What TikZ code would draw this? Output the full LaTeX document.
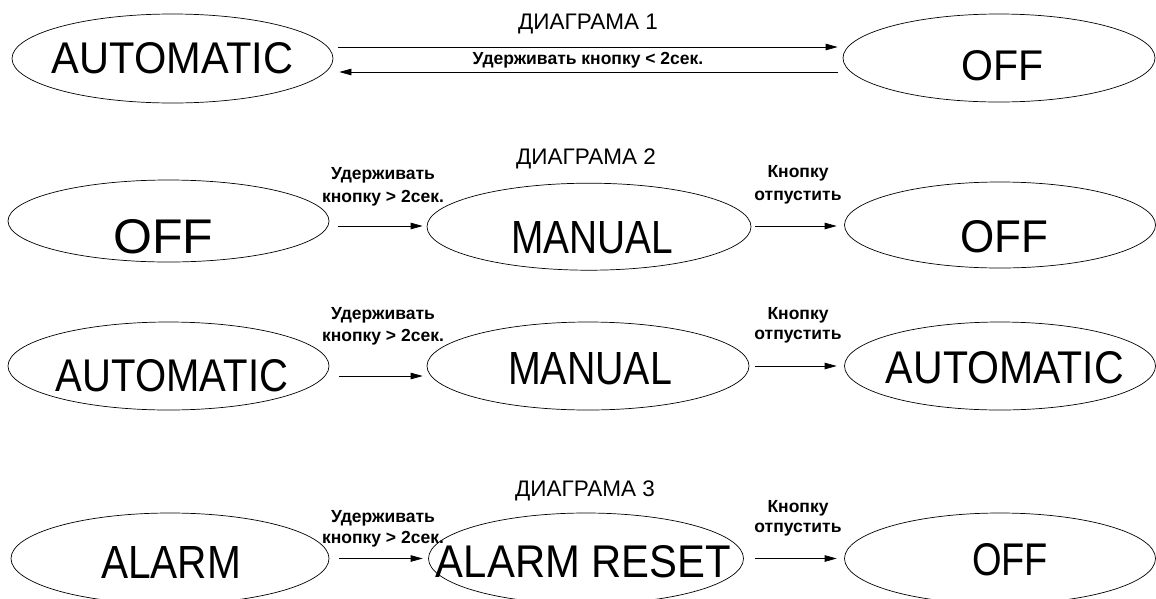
\documentclass[tikz,border=0pt]{standalone}
\usepackage{fontspec}
\setmainfont{Liberation Sans}
\usepackage{graphicx}
\usetikzlibrary{shapes.geometric,arrows.meta}
\begin{document}
\begin{tikzpicture}[x=1pt,y=-1pt,
  st/.style={draw,ellipse,line width=0.7pt,inner sep=0pt},
  big/.style={inner sep=0pt,anchor=center},
  lbl/.style={inner sep=0pt,font=\bfseries\fontsize{17.5}{19}\selectfont},
  ttl/.style={inner sep=0pt,font=\fontsize{22.5}{24}\selectfont},
  arr/.style={line width=0.7pt,-{Triangle[length=12pt,width=6.5pt]}}]
\useasboundingbox (0,0) rectangle (1156,598);
% ---------- row 1 ----------
\node[st,minimum width=321pt,minimum height=89pt] (a1) at (172.5,58.5) {};
\node[st,minimum width=312pt,minimum height=88pt] (o1) at (999,58) {};
\node[big] (ta1) at (172.5,58) {\resizebox{241pt}{31pt}{AUTOMATIC}};
\node[big] (to1) at (1002.5,66) {\resizebox{82pt}{30pt}{OFF}};
\node[ttl] (d1) at (588,24) {ДИАГРАМА 1};
\node[lbl] (l1) at (588,60) {Удерживать кнопку < 2сек.};
\draw[arr] ([xshift=5pt,yshift=11.5pt]a1.east) -- ([xshift=-5pt,yshift=11pt]o1.west);
\draw[arr] ([xshift=-5pt,yshift=-14pt]o1.west) -- ([xshift=6pt,yshift=-13.5pt]a1.east);
% ---------- row 2 ----------
\node[st,minimum width=321pt,minimum height=82pt] (o2) at (168.5,221) {};
\node[st,minimum width=324pt,minimum height=87pt] (m2) at (589,226.7) {};
\node[st,minimum width=311pt,minimum height=86pt] (o2b) at (1000,225) {};
\node[big] (to2) at (163.5,237) {\resizebox{100pt}{34pt}{OFF}};
\node[big] (tm2) at (592.5,238) {\resizebox{162pt}{32pt}{MANUAL}};
\node[big] (to2b) at (1004,237) {\resizebox{88pt}{32pt}{OFF}};
\node[ttl] (d2) at (586,159) {ДИАГРАМА 2};
\node[lbl] (l2a) at (383,175) {Удерживать};
\node[lbl] (l2b) at (383,198) {кнопку > 2сек.};
\node[lbl] (l2c) at (798,173) {Кнопку};
\node[lbl] (l2d) at (798,198) {отпустить};
\draw[arr] ([xshift=9pt,yshift=-5pt]o2.east) -- ([xshift=-4pt,yshift=0.7pt]m2.west);
\draw[arr] ([xshift=4pt,yshift=0.7pt]m2.east) -- ([xshift=-7.5pt,yshift=-1pt]o2b.west);
% ---------- row 3 ----------
\node[st,minimum width=321pt,minimum height=88pt] (a3) at (168.5,366) {};
\node[st,minimum width=322pt,minimum height=88pt] (m3) at (588,366) {};
\node[st,minimum width=311pt,minimum height=88pt] (a3b) at (1000,366) {};
\node[big] (ta3) at (172,376) {\resizebox{232pt}{32pt}{AUTOMATIC}};
\node[big] (tm3) at (590,369) {\resizebox{164pt}{32pt}{MANUAL}};
\node[big] (ta3b) at (1005,368) {\resizebox{238pt}{32pt}{AUTOMATIC}};
\node[lbl] (l3a) at (383,315) {Удерживать};
\node[lbl] (l3b) at (383,337) {кнопку > 2сек.};
\node[lbl] (l3c) at (798,315) {Кнопку};
\node[lbl] (l3d) at (798,337) {отпустить};
\draw[arr] ([xshift=10pt,yshift=-10pt]a3.east) -- ([xshift=-4pt,yshift=-10pt]m3.west);
\draw[arr] ([xshift=5.5pt]m3.east) -- ([xshift=-7.5pt]a3b.west);
% ---------- row 4 ----------
\node[st,minimum width=318pt,minimum height=91pt] (al4) at (170,558.5) {};
\node[st,minimum width=315pt,minimum height=91pt] (ar4) at (586,558.5) {};
\node[st,minimum width=311pt,minimum height=91pt] (o4) at (1000,558.5) {};
\node[big] (tal4) at (171,562) {\resizebox{140pt}{32pt}{ALARM}};
\node[big] (tar4) at (583.5,562) {\resizebox{295pt}{32pt}{ALARM RESET}};
\node[big] (to4) at (1010,560) {\resizebox{76pt}{32pt}{OFF}};
\node[ttl] (d3) at (585,491) {ДИАГРАМА 3};
\node[lbl] (l4a) at (383,518) {Удерживать};
\node[lbl] (l4b) at (383,539) {кнопку > 2сек.};
\node[lbl] (l4c) at (798,508) {Кнопку};
\node[lbl] (l4d) at (798,530) {отпустить};
\draw[arr] ([xshift=10pt]al4.east) -- ([xshift=-5.5pt]ar4.west);
\draw[arr] ([xshift=11pt]ar4.east) -- ([xshift=-7.5pt]o4.west);
\end{tikzpicture}
\end{document}
